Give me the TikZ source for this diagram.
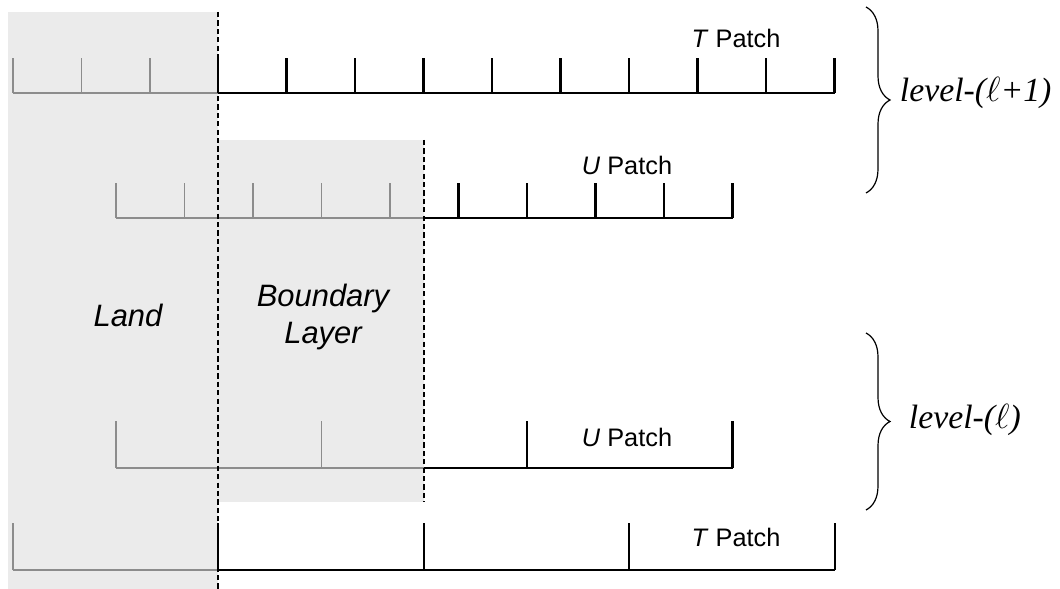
\documentclass[tikz,border=0pt]{standalone}
\usepackage{fontspec}
\setmainfont{Liberation Sans}
\newfontfamily\levelfont{Liberation Serif}
\usepackage{xcolor}
\usetikzlibrary{decorations.pathreplacing}
\definecolor{landgray}{HTML}{EBEBEB}
\definecolor{gridgray}{HTML}{8C8C8C}

\begin{document}
\begin{tikzpicture}[x=0.025cm, y=-0.025cm,
  cell/.style={line width=0.055cm, black},
  ghost/.style={line width=0.045cm, gridgray},
  edge/.style={line width=0.05cm, dash pattern=on 0.13cm off 0.08cm},
  patch/.style={font=\fontsize{18}{21}\selectfont},
  region/.style={font=\fontsize{22}{27}\selectfont\itshape, align=center},
  level/.style={font=\fontsize{24}{28}\levelfont\itshape, anchor=west},
  curly/.style={decorate, decoration={brace, amplitude=0.6cm}, line width=0.03cm}]
  \useasboundingbox (0,0) rectangle (1060,589);
  % land and boundary layer
  \fill[landgray] (8,12) rectangle (218,589);
  \fill[landgray] (218,140) rectangle (424,502);
  % fine T patch
  \draw[ghost] (13,93) -- (218,93);
  \draw[cell] (218,93) -- (835,93);
  \foreach \x in {13,81.5,150} \draw[ghost] (\x,93) -- (\x,58);
  \foreach \x in {218,286.5,355,423.5,492,560.5,629,697.5,766,834.5}
    \draw[cell] (\x,93) -- (\x,58);
  % fine U patch
  \draw[ghost] (116,218) -- (424,218);
  \draw[cell] (424,218) -- (732.5,218);
  \foreach \x in {116,184.5,253,321.5,390} \draw[ghost] (\x,218) -- (\x,183);
  \foreach \x in {458.5,527,595.5,664,732.5} \draw[cell] (\x,218) -- (\x,183);
  % coarse U patch
  \draw[ghost] (116,468) -- (424,468);
  \draw[cell] (424,468) -- (732.5,468);
  \foreach \x in {116,321.5} \draw[ghost] (\x,468) -- (\x,421);
  \foreach \x in {527,732.5} \draw[cell] (\x,468) -- (\x,421);
  % coarse T patch
  \draw[ghost] (13,570) -- (218,570);
  \draw[cell] (218,570) -- (835,570);
  \draw[ghost] (13,570) -- (13,523);
  \foreach \x in {218,424,629,835} \draw[cell] (\x,570) -- (\x,523);
  % coastline and layer edge
  \draw[edge] (218,12) -- (218,589);
  \draw[edge] (424,140) -- (424,502);
  % labels
  \node[patch] (tfine) at (736,38) {\textit{T} Patch};
  \node[patch] (ufine) at (627,165) {\textit{U} Patch};
  \node[patch] (ucoarse) at (627,437) {\textit{U} Patch};
  \node[patch] (tcoarse) at (736,537) {\textit{T} Patch};
  \node[region] (land) at (128,315) {Land};
  \node[region] (layer) at (323,317) {Boundary\\Layer};
  % levels
  \coordinate (finetop) at (866,7);
  \coordinate (finebot) at (866,193);
  \coordinate (coarsetop) at (866,333);
  \coordinate (coarsebot) at (866,510);
  \draw[curly] (finetop) -- (finebot);
  \draw[curly] (coarsetop) -- (coarsebot);
  \node[level] (finelvl) at (895,93) {level-($\ell$+1)};
  \node[level] (coarselvl) at (904,420) {level-($\ell$)};
\end{tikzpicture}
\end{document}
